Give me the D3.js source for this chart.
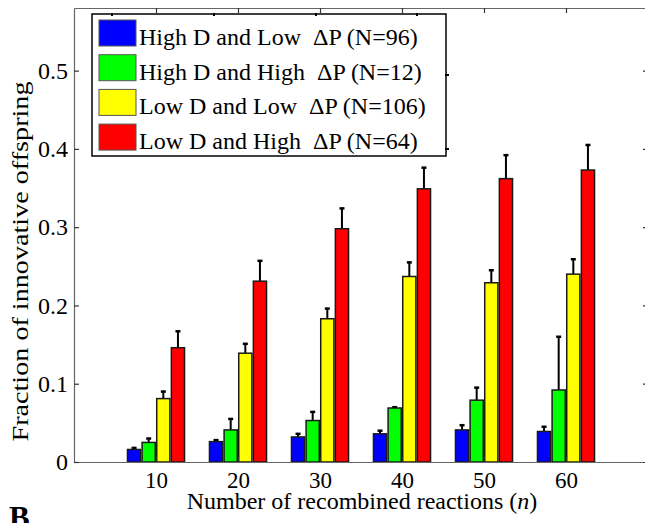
<!DOCTYPE html>
<html>
<head>
<meta charset="utf-8">
<script src="https://cdn.jsdelivr.net/npm/d3@7"></script>
<style>
  body { margin: 0; background: #fff; }
</style>
</head>
<body>
<div id="wrap"></div>
<script>
// reaction counts on the x axis
var categories = [10, 20, 30, 40, 50, 60];
var yTicks = [0, 0.1, 0.2, 0.3, 0.4, 0.5];

var seriesNames = [
  "High D and Low  \u0394P (N=96)",
  "High D and High  \u0394P (N=12)",
  "Low D and Low  \u0394P (N=106)",
  "Low D and High  \u0394P (N=64)"
];
var seriesColors = ["#0000ff", "#00ff00", "#ffff00", "#ff0000"];

// mean fraction and upper error
var highDLowDP     = [0.016, 0.026, 0.032, 0.036, 0.041, 0.039];
var highDLowDPErr  = [0.002, 0.002, 0.004, 0.004, 0.006, 0.006];
var highDHighDP    = [0.025, 0.041, 0.053, 0.069, 0.079, 0.092];
var highDHighDPErr = [0.005, 0.014, 0.011, 0.001, 0.016, 0.068];
var lowDLowDP      = [0.081, 0.139, 0.183, 0.237, 0.229, 0.240];
var lowDLowDPErr   = [0.009, 0.012, 0.013, 0.018, 0.016, 0.019];
var lowDHighDP     = [0.146, 0.231, 0.298, 0.349, 0.362, 0.373];
var lowDHighDPErr  = [0.021, 0.026, 0.026, 0.027, 0.030, 0.032];

var means = [highDLowDP, highDHighDP, lowDLowDP, lowDHighDP];
var errs  = [highDLowDPErr, highDHighDPErr, lowDLowDPErr, lowDHighDPErr];

var serif = function (sel) { return sel.style("font-family", "'Liberation Serif'"); };

var svg = d3.select("#wrap").append("svg").attr("width", 645).attr("height", 523);

var x = d3.scaleLinear().domain([0, categories.length + 1]).range([74, 648]);
var y = d3.scaleLinear().domain([0, 0.58]).range([462, 8]);
var inner = d3.scaleBand().domain(d3.range(seriesNames.length)).range([-30, 30]).padding(0.1);

// flat list of bars
var bars = [];
categories.forEach(function (c, i) {
  means.forEach(function (m, s) {
    bars.push({ cat: i + 1, s: s, v: m[i], e: errs[s][i] });
  });
});

var bx = function (d) { return x(d.cat) + inner(d.s); };
var cx = function (d) { return bx(d) + inner.bandwidth() / 2; };

// error bars (upper only)
var eb = svg.append("g").attr("stroke", "#000").attr("stroke-width", 2);
eb.selectAll("line.v").data(bars).join("line")
  .attr("class", "v")
  .attr("x1", cx).attr("x2", cx)
  .attr("y1", function (d) { return y(d.v); })
  .attr("y2", function (d) { return y(d.v + d.e); });
eb.selectAll("line.c").data(bars).join("line")
  .attr("class", "c")
  .attr("stroke-width", 2.5)
  .attr("x1", function (d) { return cx(d) - 2.5; })
  .attr("x2", function (d) { return cx(d) + 2.5; })
  .attr("y1", function (d) { return y(d.v + d.e); })
  .attr("y2", function (d) { return y(d.v + d.e); });

svg.append("g").selectAll("rect").data(bars).join("rect")
  .attr("x", bx)
  .attr("y", function (d) { return y(d.v); })
  .attr("width", inner.bandwidth())
  .attr("height", function (d) { return y(0) - y(d.v); })
  .attr("fill", function (d) { return seriesColors[d.s]; })
  .attr("stroke", "#1a1a1a")
  .attr("stroke-width", 1.5);

// axes box
var xTickPos = d3.range(1, categories.length + 1);
var fmtY = function (d) { return d === 0 ? "0" : d3.format(".1f")(d); };

var gx = svg.append("g").attr("transform", "translate(0," + y(0) + ")")
  .call(d3.axisBottom(x).tickValues(xTickPos).tickFormat(function (d) { return categories[d - 1]; })
    .tickSize(-5).tickPadding(10).tickSizeOuter(0));
var gy = svg.append("g").attr("transform", "translate(" + x(0) + ",0)")
  .call(d3.axisLeft(y).tickValues(yTicks).tickFormat(fmtY).tickSize(-5).tickPadding(6).tickSizeOuter(0));
var gt = svg.append("g").attr("transform", "translate(0," + y.range()[1] + ")")
  .call(d3.axisTop(x).tickValues(xTickPos).tickFormat("").tickSize(-5).tickSizeOuter(0));
var gr = svg.append("g").attr("transform", "translate(" + x.range()[1] + ",0)")
  .call(d3.axisRight(y).tickValues(yTicks).tickFormat("").tickSize(-5).tickSizeOuter(0));

[gx, gy, gt, gr].forEach(function (g) {
  g.attr("font-family", null);
  g.select(".domain").attr("stroke", "#666").attr("stroke-width", 1.2);
  g.selectAll(".tick line").attr("stroke", "#333").attr("stroke-width", 1.2);
  serif(g.selectAll(".tick text")).attr("font-size", 23).attr("fill", "#000");
});
gy.selectAll(".tick text").attr("font-size", 24);

// axis titles
var xt = serif(svg.append("text"))
  .attr("x", 362).attr("y", 509)
  .attr("text-anchor", "middle").attr("font-size", 24);
xt.append("tspan").text("Number of recombined reactions (");
xt.append("tspan").attr("font-style", "italic").text("n");
xt.append("tspan").text(")");

serif(svg.append("text"))
  .attr("transform", "translate(28,261.5) rotate(-90)")
  .attr("text-anchor", "middle").attr("font-size", 24)
  .attr("textLength", 360).attr("lengthAdjust", "spacingAndGlyphs")
  .text("Fraction of innovative offspring");

// panel letter, cut off at the bottom edge
serif(svg.append("text"))
  .attr("x", 9).attr("y", 528)
  .attr("font-size", 31).attr("font-weight", "bold")
  .text("B");

// legend
var lg = svg.append("g").attr("transform", "translate(92,14)");
lg.append("rect").attr("width", 354).attr("height", 142)
  .attr("fill", "#fff").attr("stroke", "#000").attr("stroke-width", 1.5);
// stray tick marks of the legend frame
[20, 122, 224, 325].forEach(function (t) {
  lg.append("line").attr("x1", t).attr("x2", t).attr("y1", -1).attr("y2", 2)
    .attr("stroke", "#000").attr("stroke-width", 2);
});
[61, 135].forEach(function (t) {
  lg.append("line").attr("x1", 353).attr("x2", 357).attr("y1", t).attr("y2", t)
    .attr("stroke", "#000").attr("stroke-width", 2);
});
var row = lg.selectAll("g.row").data(seriesNames).join("g")
  .attr("class", "row")
  .attr("transform", function (d, i) { return "translate(0," + (i * 34.7) + ")"; });
row.append("rect")
  .attr("x", 7).attr("y", 6).attr("width", 37).attr("height", 26)
  .attr("fill", function (d, i) { return seriesColors[i]; })
  .attr("stroke", "#555").attr("stroke-width", 1);
serif(row.append("text"))
  .attr("x", 47).attr("y", 31)
  .attr("font-size", 24)
  .style("white-space", "pre")
  .text(function (d) { return d; });
</script>
</body>
</html>
